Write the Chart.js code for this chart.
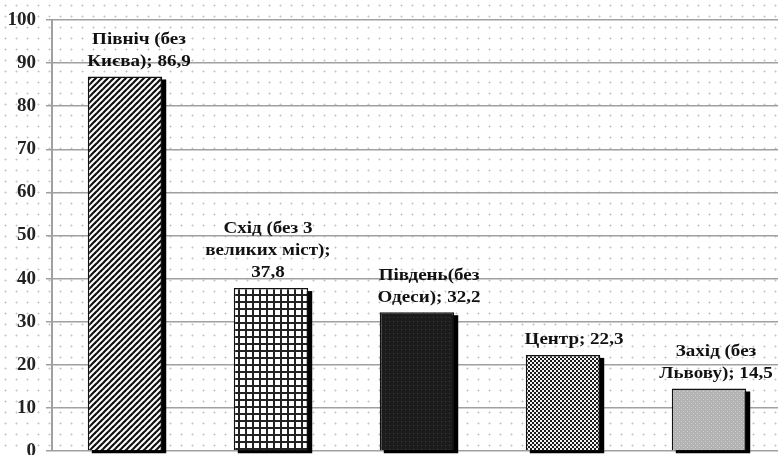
<!DOCTYPE html>
<html>
<head>
<meta charset="utf-8">
<script src="https://cdn.jsdelivr.net/npm/chart.js@4/dist/chart.umd.min.js"></script>
<style>
    html, body { margin: 0; padding: 0; background: #fff; overflow: hidden; }
    #wrap { width: 782px; height: 455px; }
</style>
</head>
<body>
<div id="wrap"><canvas id="regionChart"></canvas></div>
<script>
// Регіони та частки (дані з діаграми)
const regionNames = [
    ["Північ (без", "Києва)"],
    ["Схід (без 3", "великих міст)"],
    ["Південь(без", "Одеси)"],
    ["Центр"],
    ["Захід (без", "Львову)"]
];
const regionValues = [86.9, 37.8, 32.2, 22.3, 14.5];
const valueOnOwnLine = [false, true, false, false, false];
const yTicks = [0, 10, 20, 30, 40, 50, 60, 70, 80, 90, 100];

// зсув підписів по горизонталі (як в оригіналі)
const labelDx = [14, -3, 12, 11, 7];

function formatValue(v) {
    return v.toLocaleString("uk-UA", { minimumFractionDigits: 1, maximumFractionDigits: 1 });
}

function buildLabel(i) {
    const lines = regionNames[i].slice();
    const last = lines.length - 1;
    if (valueOnOwnLine[i]) {
        lines[last] = lines[last] + ";";
        lines.push(formatValue(regionValues[i]));
    } else {
        lines[last] = lines[last] + "; " + formatValue(regionValues[i]);
    }
    return lines;
}

// Візерунки заливки
function makePattern(size, draw) {
    const c = document.createElement("canvas");
    c.width = size;
    c.height = size;
    const g = c.getContext("2d");
    draw(g, size);
    return c;
}

const tiles = [
    makePattern(6, (g, s) => {
        g.fillStyle = "#fff";
        g.fillRect(0, 0, s, s);
        g.strokeStyle = "#111";
        g.lineWidth = 2.2;
        [-s, 0, s].forEach((ox) => {
            g.beginPath();
            g.moveTo(ox - 1, s + 1);
            g.lineTo(ox + s + 1, -1);
            g.stroke();
        });
    }),
    makePattern(7, (g, s) => {
        g.fillStyle = "#fff";
        g.fillRect(0, 0, s, s);
        g.fillStyle = "#222";
        g.fillRect(0, 0, 2, s);
        g.fillRect(0, 0, s, 2);
    }),
    makePattern(4, (g, s) => {
        g.fillStyle = "#1c1c1c";
        g.fillRect(0, 0, s, s);
        g.fillStyle = "#3c3c3c";
        g.fillRect(1, 1, 1, 1);
    }),
    makePattern(4, (g, s) => {
        g.fillStyle = "#1a1a1a";
        g.fillRect(0, 0, s, s);
        g.fillStyle = "#f4f4f4";
        g.fillRect(0, 0, 2, 2);
        g.fillRect(2, 2, 2, 2);
    }),
    makePattern(4, (g, s) => {
        g.fillStyle = "#b2b2b2";
        g.fillRect(0, 0, s, s);
        g.fillStyle = "#d2d2d2";
        g.fillRect(1, 1, 1, 1);
        g.fillRect(3, 3, 1, 1);
    })
];

const dotTile = makePattern(11, (g, s) => {
    g.fillStyle = "#fff";
    g.fillRect(0, 0, s, s);
    g.fillStyle = "#c4c4c4";
    g.fillRect(5, 5, 1, 1);
    g.fillStyle = "#e0e0e0";
    g.fillRect(4, 5, 1, 1);
    g.fillRect(6, 5, 1, 1);
    g.fillRect(5, 4, 1, 1);
    g.fillRect(5, 6, 1, 1);
});

const ctx = document.getElementById("regionChart").getContext("2d");
const fills = tiles.map((t) => ctx.createPattern(t, "repeat"));

// Фон у крапку
const dottedBackground = {
    id: "dottedBackground",
    beforeDraw(chart) {
        const c = chart.ctx;
        c.save();
        c.fillStyle = c.createPattern(dotTile, "repeat");
        c.fillRect(0, 0, chart.width, chart.height);
        c.restore();
    }
};

// Тінь праворуч та знизу стовпців
const barShadow = {
    id: "barShadow",
    beforeDatasetsDraw(chart) {
        const c = chart.ctx;
        const meta = chart.getDatasetMeta(0);
        c.save();
        c.fillStyle = "#000";
        meta.data.forEach((bar) => {
            const p = bar.getProps(["x", "y", "base", "width"], true);
            c.fillRect(p.x - p.width / 2 + 4, p.y + 3, p.width, p.base - p.y);
        });
        c.restore();
    }
};

// Підписи над стовпцями
const barLabels = {
    id: "barLabels",
    afterDatasetsDraw(chart) {
        const c = chart.ctx;
        const meta = chart.getDatasetMeta(0);
        c.save();
        c.font = "bold 17px 'Liberation Serif', 'Times New Roman', serif";
        c.fillStyle = "#111";
        c.textAlign = "center";
        c.textBaseline = "middle";
        meta.data.forEach((bar, i) => {
            const p = bar.getProps(["x", "y"], true);
            const lines = buildLabel(i);
            const cx = p.x + labelDx[i];
            lines.forEach((line, k) => {
                const ly = p.y - 15 - (lines.length - 1 - k) * 22;
                c.save();
                c.translate(cx, ly);
                c.scale(1.12, 1);
                c.fillText(line, 0, 0);
                c.restore();
            });
        });
        c.restore();
    }
};

new Chart(ctx, {
    type: "bar",
    data: {
        labels: regionNames.map((n) => n.join(" ")),
        datasets: [
            {
                data: regionValues,
                backgroundColor: fills,
                borderColor: "#111",
                borderWidth: 1.5,
                barPercentage: 0.51,
                categoryPercentage: 1.0,
            },
        ],
    },
    options: {
        responsive: true,
        maintainAspectRatio: false,
        animation: false,
        layout: {
            padding: { top: 20, bottom: 4, left: 0, right: 0 },
        },
        plugins: {
            legend: { display: false },
            tooltip: { enabled: false },
        },
        scales: {
            x: {
                display: false,
            },
            y: {
                min: 0,
                max: 100,
                afterBuildTicks: (scale) => {
                    scale.ticks = yTicks.map((v) => ({ value: v }));
                },
                afterFit: (scale) => {
                    scale.width = 52;
                    scale.paddingTop = 0;
                    scale.paddingBottom = 0;
                },
                grid: {
                    color: "#a0a0a0",
                    lineWidth: 1.5,
                    tickLength: 6,
                },
                border: {
                    color: "#a0a0a0",
                    width: 2,
                },
                ticks: {
                    padding: 10,
                    color: "#222",
                    font: {
                        family: "'Liberation Serif', 'Times New Roman', serif",
                        weight: "bold",
                        size: 19,
                    },
                },
            },
        },
    },
    plugins: [dottedBackground, barShadow, barLabels],
});
</script>
</body>
</html>
